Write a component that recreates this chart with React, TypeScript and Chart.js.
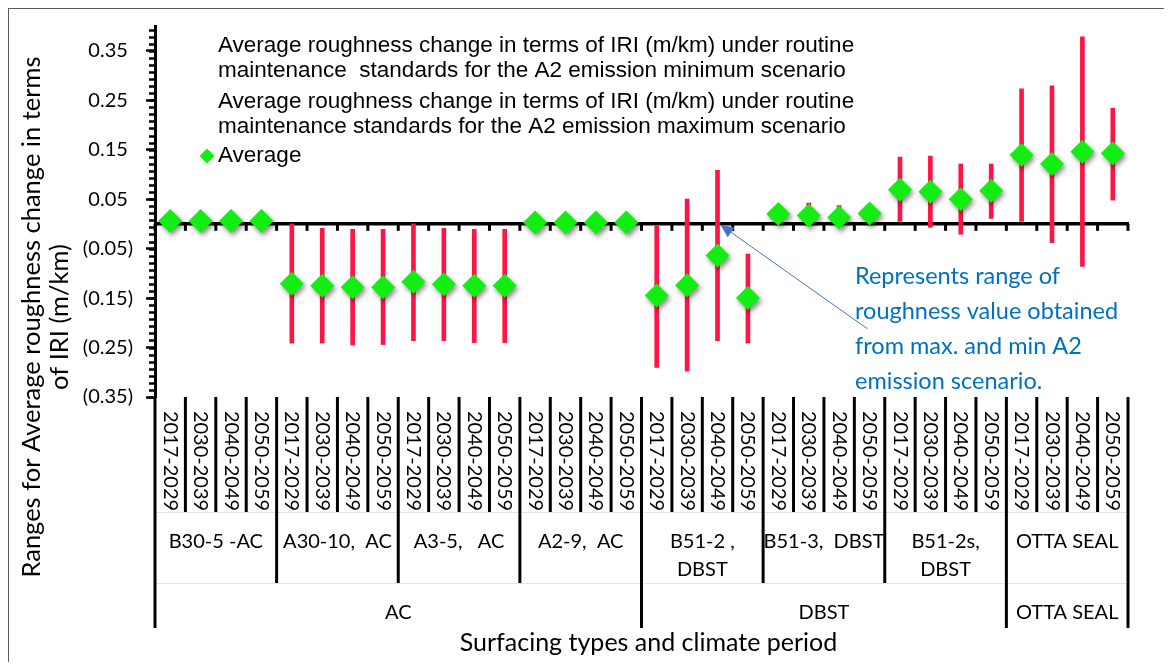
import React, { useEffect, useRef } from 'react';
import { Chart, registerables } from 'chart.js';

Chart.register(...registerables);

// ---------- data ----------
const periods = ['2017-2029', '2030-2039', '2040-2049', '2050-2059'];
const sections = [
  'B30-5 -AC',
  'A30-10,  AC',
  'A3-5,   AC',
  'A2-9,  AC',
  'B51-2 ,\nDBST',
  'B51-3,  DBST',
  'B51-2s,\nDBST',
  'OTTA SEAL',
];
const surfacing = ['AC', 'DBST', 'OTTA SEAL'];
const surfacingSections = [4, 3, 1];

const averageIRI = [
  0.006, 0.006, 0.006, 0.006,
  -0.121, -0.125, -0.128, -0.128,
  -0.117, -0.122, -0.125, -0.125,
  0.003, 0.003, 0.003, 0.003,
  -0.145, -0.124, -0.064, -0.150,
  0.020, 0.017, 0.013, 0.021,
  0.069, 0.065, 0.050, 0.067,
  0.139, 0.121, 0.146, 0.143,
];
const minIRI = [
  0.0, 0.0, 0.0, 0.0,
  -0.241, -0.241, -0.245, -0.244,
  -0.236, -0.236, -0.240, -0.240,
  0.0, 0.0, 0.0, 0.0,
  -0.290, -0.298, -0.236, -0.241,
  0.005, 0.0, 0.0, 0.005,
  0.005, -0.007, -0.021, 0.011,
  0.005, -0.038, -0.086, 0.048,
];
const maxIRI = [
  0.010, 0.010, 0.010, 0.010,
  0.0, -0.009, -0.011, -0.011,
  0.0, -0.009, -0.011, -0.011,
  0.006, 0.006, 0.006, 0.006,
  -0.004, 0.050, 0.108, -0.061,
  0.030, 0.042, 0.037, 0.030,
  0.135, 0.137, 0.121, 0.121,
  0.273, 0.279, 0.378, 0.234,
];
const yTickValues = [-0.35, -0.25, -0.15, -0.05, 0.05, 0.15, 0.25, 0.35];
const yMin = -0.35;
const yMax = 0.4;

const legendMinText = [
  'Average roughness change in terms of IRI (m/km) under routine',
  'maintenance  standards for the A2 emission minimum scenario',
];
const legendMaxText = [
  'Average roughness change in terms of IRI (m/km) under routine',
  'maintenance standards for the A2 emission maximum scenario',
];
const legendAvgText = 'Average';
const yTitle = ['Ranges for Average roughness change in terms', 'of IRI (m/km)'];
const xTitle = 'Surfacing types and climate period';
const noteText = [
  'Represents range of',
  'roughness value obtained',
  'from max. and min A2',
  'emission scenario.',
];
const noteCategory = 18; // B51-2, 2040-2049

const categories = sections.flatMap(() => periods);
const rangeData = minIRI.map((lo, i) => [lo, maxIRI[i]]);

// ---------- styles ----------
const RED = '#FF1446';
const GREEN = '#12EE12';
const LATO = 'Lato, "Noto Sans", sans-serif';
const ARIAL = '"Liberation Sans", Arial, sans-serif';

const fmt = (v: number) =>
  v < 0 ? `(${Math.abs(v).toFixed(2)})` : `${v.toFixed(2)} `;

const diamondShadow = {
  id: 'diamondShadow',
  beforeDatasetDraw(chart: any, args: any) {
    if (args.index === 1) {
      const ctx = chart.ctx;
      ctx.save();
      ctx.shadowColor = 'rgba(0,0,0,0.45)';
      ctx.shadowBlur = 5;
      ctx.shadowOffsetX = 2;
      ctx.shadowOffsetY = 3;
    }
  },
  afterDatasetDraw(chart: any, args: any) {
    if (args.index === 1) chart.ctx.restore();
  },
};

const axisDecor = {
  id: 'axisDecor',
  beforeDatasetsDraw(chart: any) {
    const { ctx, chartArea: ca, scales } = chart;
    const x = scales.x;
    const y = scales.y;
    ctx.save();
    // minor ticks on y axis
    ctx.strokeStyle = '#000';
    ctx.lineWidth = 2.5;
    const step = 0.1 / 7;
    for (let v = yMin; v <= yMax + 1e-9; v += step) {
      const py = Math.round(y.getPixelForValue(v)) + 0.5;
      ctx.beginPath();
      ctx.moveTo(ca.left - 6, py);
      ctx.lineTo(ca.left, py);
      ctx.stroke();
    }
    // zero line with category ticks
    const y0 = y.getPixelForValue(0);
    ctx.lineWidth = 3.5;
    ctx.beginPath();
    ctx.moveTo(ca.left, y0);
    ctx.lineTo(ca.right + 1, y0);
    ctx.stroke();
    ctx.lineWidth = 3;
    for (let k = 0; k <= categories.length; k++) {
      const px = x.getPixelForValue(k - 0.5);
      ctx.beginPath();
      ctx.moveTo(px, y0);
      ctx.lineTo(px, y0 + 7);
      ctx.stroke();
    }
    ctx.restore();
  },
  afterDraw(chart: any) {
    const { ctx, chartArea: ca, scales } = chart;
    const x = scales.x;
    const y = scales.y;
    const n = categories.length;
    const edge = (k: number) => x.getPixelForValue(k - 0.5);
    const top = ca.bottom;
    const r1 = top + 115;
    const r2 = top + 186;
    const r3 = top + 231;

    ctx.save();
    // faint row lines
    ctx.strokeStyle = '#e3e3e3';
    ctx.lineWidth = 1;
    [r1, r2].forEach((ry) => {
      ctx.beginPath();
      ctx.moveTo(ca.left, ry + 0.5);
      ctx.lineTo(ca.right, ry + 0.5);
      ctx.stroke();
    });

    // separators
    const topBounds: number[] = [0];
    let acc = 0;
    surfacingSections.forEach((s) => {
      acc += s * periods.length;
      topBounds.push(acc);
    });
    ctx.strokeStyle = '#000';
    ctx.lineWidth = 3;
    for (let k = 0; k <= n; k++) {
      let bottom = r1;
      if (topBounds.includes(k)) bottom = r3;
      else if (k % periods.length === 0) bottom = r2;
      const px = edge(k);
      ctx.beginPath();
      ctx.moveTo(px, top);
      ctx.lineTo(px, bottom);
      ctx.stroke();
    }

    // period labels (rotated, reading downward)
    ctx.fillStyle = '#000';
    ctx.font = `20px ${LATO}`;
    ctx.textAlign = 'center';
    ctx.textBaseline = 'middle';
    categories.forEach((lab, i) => {
      ctx.save();
      ctx.translate(x.getPixelForValue(i), top + 64);
      ctx.rotate(Math.PI / 2);
      ctx.fillText(lab, 0, 0);
      ctx.restore();
    });

    // section labels
    sections.forEach((s, g) => {
      const cx = (edge(g * 4) + edge(g * 4 + 4)) / 2;
      const lines = s.split('\n');
      lines.forEach((ln, j) => ctx.fillText(ln, cx, top + 145 + j * 28));
    });

    // surfacing labels
    surfacing.forEach((s, t) => {
      const cx = (edge(topBounds[t]) + edge(topBounds[t + 1])) / 2;
      ctx.fillText(s, cx, top + 216);
    });

    // x title
    ctx.font = `25px ${LATO}`;
    ctx.fillText(xTitle, (ca.left + ca.right) / 2 + 7, top + 246);

    // y title
    ctx.font = `25.5px ${LATO}`;
    ctx.save();
    ctx.translate(23, 308);
    ctx.rotate(-Math.PI / 2);
    ctx.fillText(yTitle[0], 0, 0);
    ctx.restore();
    ctx.save();
    ctx.translate(51, 308);
    ctx.rotate(-Math.PI / 2);
    ctx.fillText(yTitle[1], 0, 0);
    ctx.restore();

    // legend
    ctx.font = `22.5px ${ARIAL}`;
    ctx.textAlign = 'left';
    const lx = 209;
    const lineYs = [37, 62, 93, 118];
    [...legendMinText, ...legendMaxText].forEach((t, i) => ctx.fillText(t, lx, lineYs[i]));
    ctx.fillText(legendAvgText, lx, 147);
    ctx.fillStyle = GREEN;
    ctx.beginPath();
    ctx.moveTo(198 - 7.5, 147);
    ctx.lineTo(198, 147 - 7.5);
    ctx.lineTo(198 + 7.5, 147);
    ctx.lineTo(198, 147 + 7.5);
    ctx.closePath();
    ctx.fill();

    // annotation
    const tipX = x.getPixelForValue(noteCategory) + 3;
    const tipY = y.getPixelForValue(0) + 1;
    const tailX = tipX + 147;
    const tailY = tipY + 104;
    ctx.strokeStyle = '#4472C4';
    ctx.fillStyle = '#4472C4';
    ctx.lineWidth = 1;
    const ang = Math.atan2(tailY - tipY, tailX - tipX);
    const hl = 13;
    const hw = 6;
    const bx = tipX + Math.cos(ang) * hl;
    const by = tipY + Math.sin(ang) * hl;
    ctx.beginPath();
    ctx.moveTo(tailX, tailY);
    ctx.lineTo(bx, by);
    ctx.stroke();
    ctx.beginPath();
    ctx.moveTo(tipX, tipY);
    ctx.lineTo(bx - Math.sin(ang) * hw, by + Math.cos(ang) * hw);
    ctx.lineTo(bx + Math.sin(ang) * hw, by - Math.cos(ang) * hw);
    ctx.closePath();
    ctx.fill();

    ctx.fillStyle = '#0070C0';
    ctx.font = `23.5px ${LATO}`;
    ctx.textAlign = 'left';
    noteText.forEach((t, i) => ctx.fillText(t, 846, 267 + i * 35.2));
    ctx.restore();
  },
};

export default function App() {
  const ref = useRef<HTMLCanvasElement | null>(null);

  useEffect(() => {
    if (!ref.current) return;
    const chart = new Chart(ref.current, {
      type: 'bar',
      data: {
        labels: categories,
        datasets: [
          {
            type: 'bar',
            label: legendMinText.join(' ') + ' / ' + legendMaxText.join(' '),
            data: rangeData as any,
            backgroundColor: RED,
            borderWidth: 0,
            barThickness: 4,
            order: 1,
          },
          {
            type: 'line',
            label: legendAvgText,
            data: averageIRI,
            showLine: false,
            pointStyle: 'rectRot',
            pointRadius: 12,
            pointBackgroundColor: GREEN,
            pointBorderWidth: 0,
            pointBorderColor: GREEN,
            order: 0,
          } as any,
        ],
      },
      options: {
        animation: false,
        responsive: true,
        maintainAspectRatio: false,
        events: [],
        layout: { padding: { top: 17, right: 36, left: 0, bottom: 0 } },
        plugins: {
          legend: { display: false },
          tooltip: { enabled: false },
        },
        scales: {
          x: {
            type: 'category',
            offset: true,
            grid: { display: false },
            border: { display: false },
            ticks: { display: false },
            afterFit: (s: any) => {
              s.height = 265;
              s.paddingLeft = 0;
              s.paddingRight = 0;
            },
          },
          y: {
            type: 'linear',
            min: yMin,
            max: yMax,
            afterBuildTicks: (s: any) => {
              s.ticks = yTickValues.map((v) => ({ value: v }));
            },
            afterFit: (s: any) => {
              s.width = 146;
              s.paddingTop = 0;
              s.paddingBottom = 0;
            },
            border: { display: true, color: '#000', width: 3 },
            grid: {
              display: true,
              drawOnChartArea: false,
              drawTicks: true,
              tickLength: 9,
              tickWidth: 2.5,
              tickColor: '#000',
            },
            ticks: {
              callback: (v: any) => fmt(Number(v)),
              font: { family: LATO, size: 20 },
              color: '#000',
              padding: 13,
            },
          },
        },
      },
      plugins: [diamondShadow, axisDecor],
    });
    return () => chart.destroy();
  }, []);

  return (
    <div
      style={{
        width: 1157,
        height: 655,
        marginLeft: -1,
        marginTop: -1,
        borderTop: '2px solid #5a5a5a',
        borderLeft: '2px solid #5a5a5a',
        boxSizing: 'border-box',
        background: '#fff',
      }}
    >
      <div style={{ position: 'relative', width: 1155, height: 653 }}>
        <canvas ref={ref} />
      </div>
    </div>
  );
}
